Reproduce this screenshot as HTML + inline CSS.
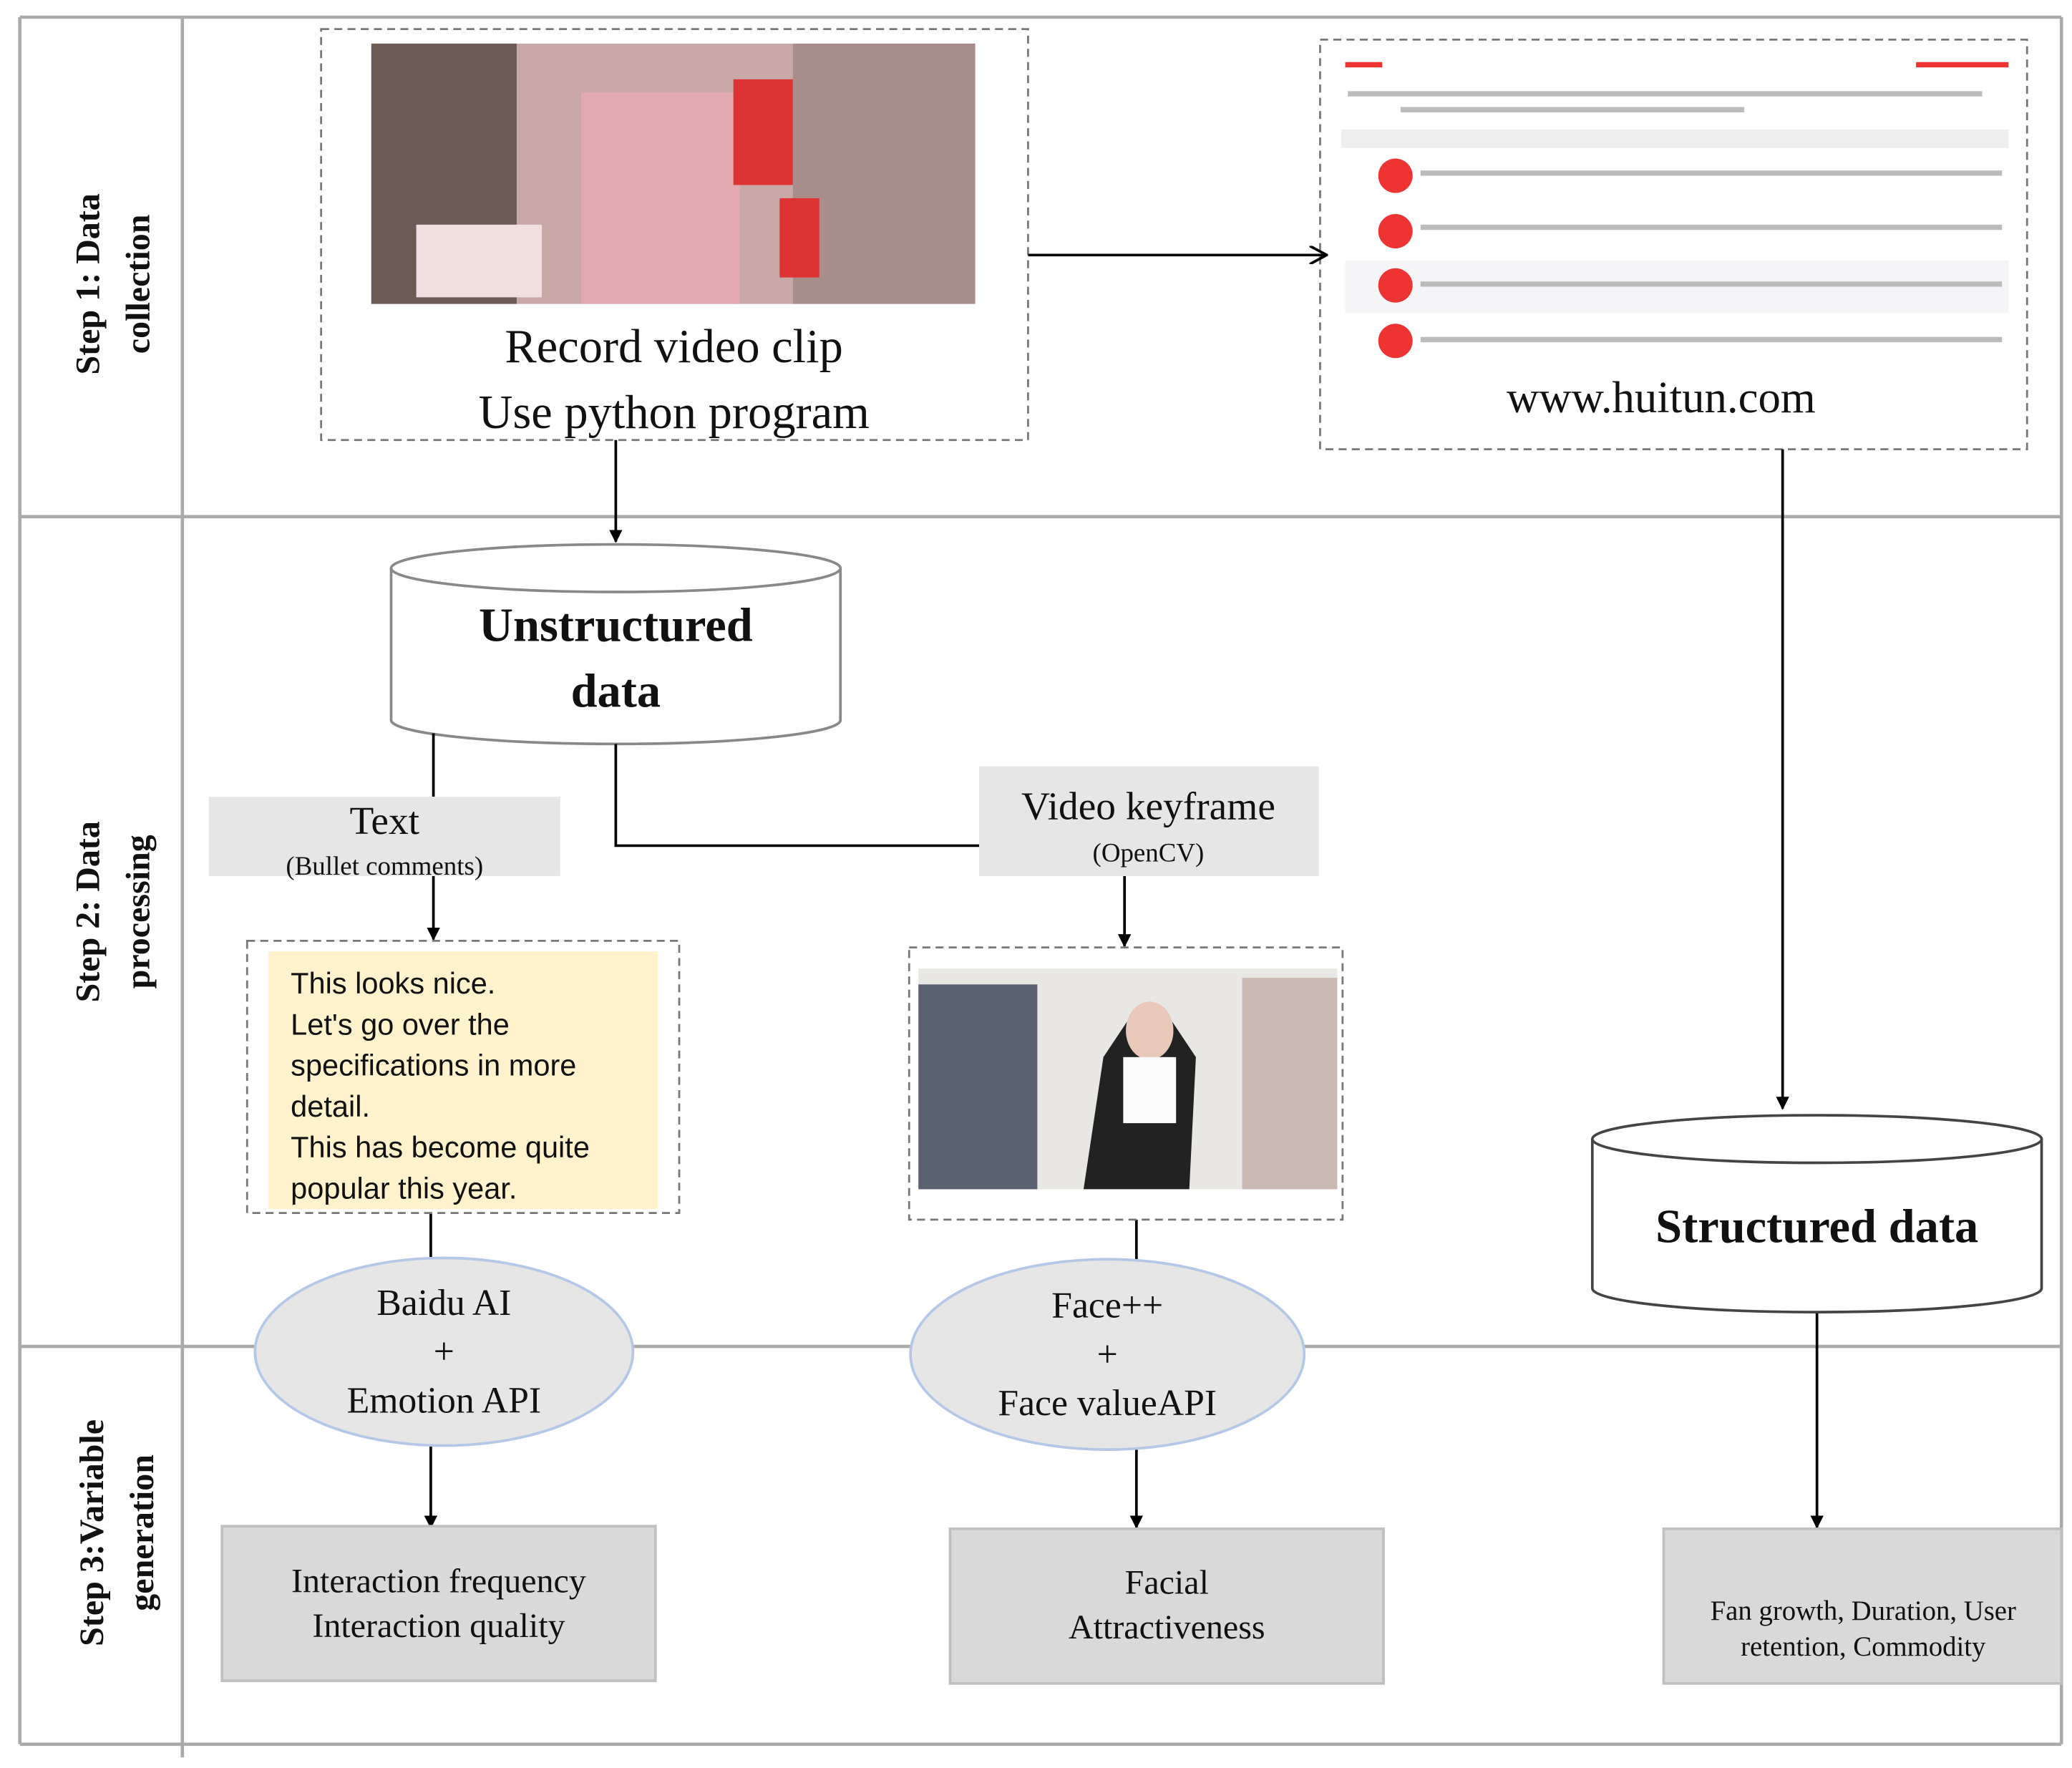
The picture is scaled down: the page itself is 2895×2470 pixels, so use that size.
<!DOCTYPE html>
<html><head><meta charset="utf-8"><style>
html,body{margin:0;padding:0;background:#fff;}
svg{display:block;}
text{font-family:"Liberation Serif",serif;fill:#111;}
.s{font-family:"Liberation Sans","DejaVu Sans",sans-serif;}
</style></head><body>
<svg width="2895" height="2470" viewBox="0 0 1568 1338" preserveAspectRatio="none" xmlns="http://www.w3.org/2000/svg">
<defs><marker id="a" markerWidth="10" markerHeight="10" refX="9" refY="5" orient="auto" markerUnits="userSpaceOnUse"><path d="M0,0 L10,5 L0,10 z" fill="#000"/></marker>
<marker id="b" markerWidth="14" markerHeight="14" refX="13" refY="7" orient="auto" markerUnits="userSpaceOnUse"><path d="M0,0 L13,7 L0,14" fill="none" stroke="#000" stroke-width="2"/></marker></defs>
<!-- grid -->
<g stroke="#aaa" stroke-width="2.5" fill="none">
<line x1="15" y1="13" x2="1560" y2="13"/><line x1="15" y1="391" x2="1560" y2="391"/>
<line x1="15" y1="1019" x2="1560" y2="1019"/><line x1="15" y1="1320" x2="1560" y2="1320"/>
<line x1="15" y1="13" x2="15" y2="1320"/><line x1="138" y1="13" x2="138" y2="1330"/>
<line x1="1560" y1="13" x2="1560" y2="1320"/>
</g>
<!-- row labels -->
<g font-weight="bold" font-size="26" text-anchor="middle">
<text transform="translate(75,215) rotate(-90)"><tspan x="0" y="0">Step 1: Data</tspan><tspan x="0" y="38">collection</tspan></text>
<text transform="translate(75,690) rotate(-90)"><tspan x="0" y="0">Step 2: Data</tspan><tspan x="0" y="38">processing</tspan></text>
<text transform="translate(78,1160) rotate(-90)"><tspan x="0" y="0">Step 3:Variable</tspan><tspan x="0" y="38">generation</tspan></text>
</g>
<!-- box1 -->
<rect x="243" y="22" width="535" height="311" fill="#fff" stroke="#777" stroke-width="1.5" stroke-dasharray="6,4"/>
<rect x="281" y="33" width="457" height="197" fill="#c9a9a8"/>
<rect x="281" y="33" width="110" height="197" fill="#6d5a55"/>
<rect x="600" y="33" width="138" height="197" fill="#a88e8a"/>
<rect x="440" y="70" width="120" height="160" fill="#e2a9b0"/>
<rect x="555" y="60" width="45" height="80" fill="#d33"/>
<rect x="590" y="150" width="30" height="60" fill="#d33"/>
<rect x="315" y="170" width="95" height="55" fill="#f1dfe0"/>
<text x="510" y="274" font-size="36" text-anchor="middle">Record  video clip</text>
<text x="510" y="324" font-size="36" text-anchor="middle">Use python program</text>
<!-- box2 -->
<rect x="999" y="30" width="535" height="310" fill="#fff" stroke="#777" stroke-width="1.5" stroke-dasharray="6,4"/>
<g fill="#eee"><rect x="1015" y="98" width="505" height="14"/><rect x="1018" y="197" width="502" height="40" fill="#f5f5f8"/></g>
<g fill="#e33"><rect x="1018" y="47" width="28" height="4"/><rect x="1450" y="47" width="70" height="4"/>
<circle cx="1056" cy="133" r="13"/><circle cx="1056" cy="175" r="13"/><circle cx="1056" cy="216" r="13"/><circle cx="1056" cy="258" r="13"/></g>
<g fill="#bbb"><rect x="1020" y="69" width="480" height="4"/><rect x="1060" y="81" width="260" height="4"/>
<rect x="1075" y="129" width="440" height="4"/><rect x="1075" y="170" width="440" height="4"/><rect x="1075" y="213" width="440" height="4"/><rect x="1075" y="255" width="440" height="4"/></g>
<text x="1257" y="312" font-size="34" text-anchor="middle">www.huitun.com</text>
<!-- arrows top -->
<line x1="778" y1="193" x2="1004" y2="193" stroke="#000" stroke-width="2" marker-end="url(#b)"/>
<line x1="466" y1="333" x2="466" y2="410" stroke="#000" stroke-width="2" marker-end="url(#a)"/>
<!-- cylinder 1 -->
<path d="M296,430 L296,545 A170,18 0 0 0 636,545 L636,430" fill="#fff" stroke="#888" stroke-width="2"/>
<ellipse cx="466" cy="430" rx="170" ry="18" fill="#fff" stroke="#888" stroke-width="2"/>
<text x="466" y="485" font-size="36" font-weight="bold" text-anchor="middle">Unstructured</text>
<text x="466" y="535" font-size="36" font-weight="bold" text-anchor="middle">data</text>
<!-- connectors -->
<g stroke="#000" stroke-width="2" fill="none">
<line x1="328" y1="555" x2="328" y2="603"/>
<polyline points="466,563 466,640 741,640"/>
<line x1="328" y1="663" x2="328" y2="711" marker-end="url(#a)"/>
<line x1="851" y1="663" x2="851" y2="716" marker-end="url(#a)"/>
<line x1="326" y1="918" x2="326" y2="952"/>
<line x1="860" y1="923" x2="860" y2="954"/>
<line x1="326" y1="1094" x2="326" y2="1156" marker-end="url(#a)"/>
<line x1="860" y1="1096" x2="860" y2="1156" marker-end="url(#a)"/>
<line x1="1349" y1="340" x2="1349" y2="839" marker-end="url(#a)"/>
<line x1="1375" y1="992" x2="1375" y2="1156" marker-end="url(#a)"/>
</g>
<!-- text boxes -->
<rect x="158" y="603" width="266" height="60" fill="#e6e6e6"/>
<text x="291" y="631" font-size="30" text-anchor="middle">Text</text>
<text x="291" y="662" font-size="20" text-anchor="middle">(Bullet  comments)</text>
<rect x="741" y="580" width="257" height="83" fill="#e6e6e6"/>
<text x="869" y="620" font-size="30" text-anchor="middle">Video keyframe</text>
<text x="869" y="652" font-size="20" text-anchor="middle">(OpenCV)</text>
<!-- comment box -->
<rect x="187" y="712" width="327" height="206" fill="#fff" stroke="#777" stroke-width="1.5" stroke-dasharray="6,4"/>
<rect x="203" y="720" width="295" height="195" fill="#fff2cc"/>
<g class="s" font-size="22.5"><text class="s" x="220" y="752">This looks nice.</text><text class="s" x="220" y="783">Let's go over the</text><text class="s" x="220" y="814">specifications in more</text><text class="s" x="220" y="845">detail.</text><text class="s" x="220" y="876">This has become quite</text><text class="s" x="220" y="907">popular this year.</text></g>
<!-- keyframe box -->
<rect x="688" y="717" width="328" height="206" fill="#fff" stroke="#777" stroke-width="1.5" stroke-dasharray="6,4"/>
<rect x="695" y="733" width="317" height="167" fill="#e9e7e4"/>
<rect x="695" y="745" width="90" height="155" fill="#596070"/>
<rect x="940" y="740" width="72" height="160" fill="#c9b9b2"/>
<path d="M820,900 L835,800 L855,770 L885,770 L905,800 L900,900 z" fill="#222"/>
<ellipse cx="870" cy="780" rx="18" ry="22" fill="#e8c9b9"/>
<rect x="850" y="800" width="40" height="50" fill="#fafafa"/>
<!-- ellipses -->
<ellipse cx="336" cy="1023" rx="143" ry="71" fill="#e6e6e6" stroke="#b4c7e7" stroke-width="2"/>
<text x="336" y="995" font-size="28" text-anchor="middle">Baidu AI</text>
<text x="336" y="1032" font-size="28" text-anchor="middle">+</text>
<text x="336" y="1069" font-size="28" text-anchor="middle">Emotion API</text>
<ellipse cx="838" cy="1025" rx="149" ry="72" fill="#e6e6e6" stroke="#b4c7e7" stroke-width="2"/>
<text x="838" y="997" font-size="28" text-anchor="middle">Face++</text>
<text x="838" y="1034" font-size="28" text-anchor="middle">+</text>
<text x="838" y="1071" font-size="28" text-anchor="middle">Face valueAPI</text>
<!-- cylinder 2 -->
<path d="M1205,862 L1205,975 A170,18 0 0 0 1545,975 L1545,862" fill="#fff" stroke="#444" stroke-width="2"/>
<ellipse cx="1375" cy="862" rx="170" ry="18" fill="#fff" stroke="#444" stroke-width="2"/>
<text x="1375" y="940" font-size="36" font-weight="bold" text-anchor="middle">Structured data</text>
<!-- output boxes -->
<rect x="168" y="1155" width="328" height="117" fill="#d9d9d9" stroke="#bfbfbf" stroke-width="2"/>
<text x="332" y="1205" font-size="26" text-anchor="middle">Interaction frequency</text>
<text x="332" y="1239" font-size="26" text-anchor="middle">Interaction quality</text>
<rect x="719" y="1157" width="328" height="117" fill="#d9d9d9" stroke="#bfbfbf" stroke-width="2"/>
<text x="883" y="1206" font-size="26" text-anchor="middle">Facial</text>
<text x="883" y="1240" font-size="26" text-anchor="middle">Attractiveness</text>
<rect x="1259" y="1157" width="301" height="117" fill="#d9d9d9" stroke="#bfbfbf" stroke-width="2"/>
<text x="1410" y="1226" font-size="21" text-anchor="middle">Fan growth, Duration, User</text>
<text x="1410" y="1253" font-size="21" text-anchor="middle">retention, Commodity</text>
</svg>
</body></html>
